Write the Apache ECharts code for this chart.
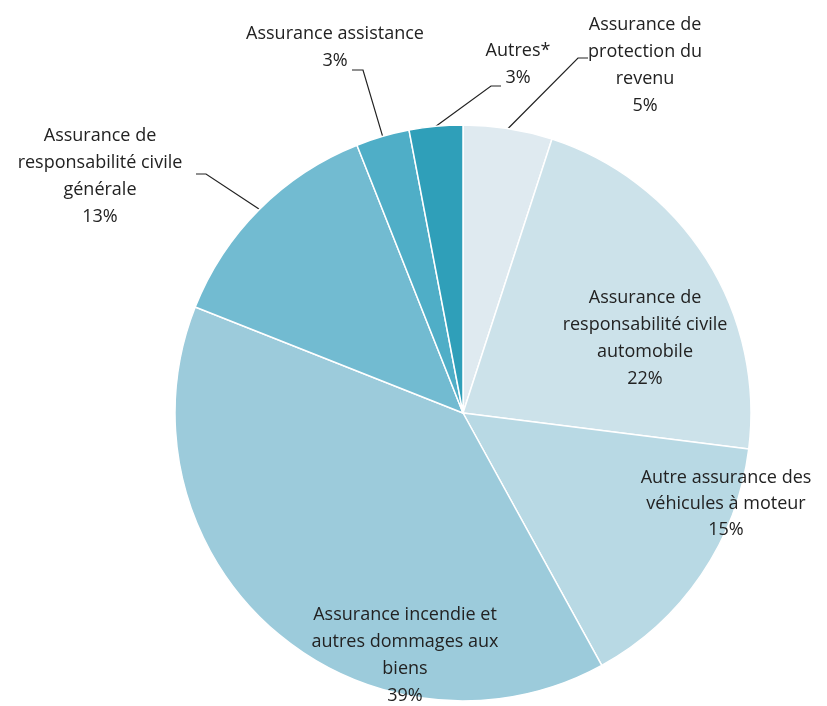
<!DOCTYPE html>
<html>
<head>
<meta charset="utf-8">
<script src="https://cdn.jsdelivr.net/npm/echarts@6/dist/echarts.min.js"></script>
<style>html,body{margin:0;padding:0;background:#fff}#c{width:827px;height:706px}</style>
</head>
<body>
<div id="c"></div>
<script>
// Data
const categories = [
  "Assurance de\nprotection du\nrevenu",
  "Assurance de\nresponsabilité civile\nautomobile",
  "Autre assurance des\nvéhicules à moteur",
  "Assurance incendie et\nautres dommages aux\nbiens",
  "Assurance de\nresponsabilité civile\ngénérale",
  "Assurance assistance",
  "Autres*"
];
const values = [5, 22, 15, 39, 13, 3, 3];

// Styles / positions (kept separate from data)
const colors = ["#dfeaf0", "#cce2ea", "#b8d9e4", "#9ccbdb", "#72bbd1", "#4faec7", "#2f9fb9"];
const outside = [true, false, false, false, true, true, true];
// label anchor (center x, top y), and leader-line elbow/end
const labelPos = [
  {x: 645, y: 11, lh: 27},
  {x: 645, y: 284, lh: 27},
  {x: 726, y: 465, lh: 26},
  {x: 405, y: 601, lh: 27},
  {x: 100, y: 122, lh: 27},
  {x: 335, y: 20, lh: 27},
  {x: 518, y: 37, lh: 27}
];
const linePts = [
  [[578, 58], [588, 58]],
  null, null, null,
  [[206, 174], [196, 174]],
  [[363, 70], [352, 70]],
  [[491, 86], [501, 86]]
];

const data = categories.map((name, i) => ({
  name: name,
  value: values[i],
  itemStyle: {color: colors[i]},
  label: {position: outside[i] ? 'outside' : 'inside', lineHeight: labelPos[i].lh},
  labelLine: {show: outside[i]}
}));

const chart = echarts.init(document.getElementById('c'), null, {renderer: 'canvas'});
chart.setOption({
  animation: false,
  backgroundColor: '#ffffff',
  series: [{
    type: 'pie',
    center: [463, 413],
    radius: 288,
    startAngle: 90,
    clockwise: true,
    avoidLabelOverlap: false,
    data: data,
    itemStyle: {borderColor: '#ffffff', borderWidth: 1.5},
    label: {
      show: true,
      formatter: p => p.name + '\n' + p.value + '%',
      fontFamily: '"Open Sans", Lato, sans-serif',
      fontSize: 18,
      color: '#222222',
      align: 'center'
    },
    labelLine: {
      lineStyle: {color: '#222', width: 1.2},
      length: 10, length2: 10
    },
    labelLayout: function (params) {
      const i = params.dataIndex;
      const lp = labelPos[i];
      const res = {x: lp.x, y: lp.y, align: 'center', verticalAlign: 'top'};
      if (outside[i] && params.labelLinePoints) {
        const start = params.labelLinePoints[0];
        res.labelLinePoints = [start, linePts[i][0], linePts[i][1]];
      }
      return res;
    }
  }]
});
</script>
</body>
</html>
